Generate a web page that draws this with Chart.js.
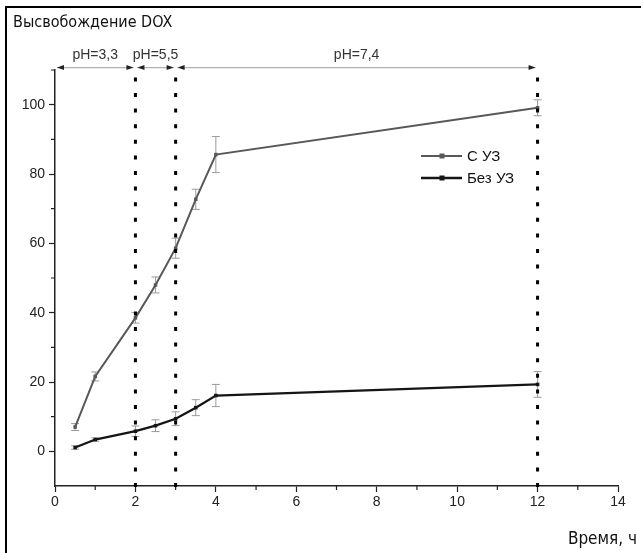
<!DOCTYPE html>
<html><head><meta charset="utf-8">
<script src="https://cdn.jsdelivr.net/npm/chart.js@4/dist/chart.umd.min.js"></script>
<style>
html,body{margin:0;padding:0;background:#fff;overflow:hidden}
#wrap{position:relative;width:641px;height:553px;overflow:hidden}
#frame{position:absolute;left:5px;top:6px;width:700px;height:600px;border-left:2px solid #000;border-top:2px solid #000;pointer-events:none}
canvas{display:block}
</style></head><body>
<div id="wrap"><canvas id="c" width="641" height="553"></canvas><div id="frame"></div></div>
<script>
const TIME = [0.5, 1, 2, 2.5, 3, 3.5, 4, 12];
const WITH_US = [7, 21.6, 38.5, 48, 58.6, 72.7, 85.6, 99.1];
const WITH_US_ERR = [1, 1.3, 1.5, 2.3, 2.9, 2.9, 5.2, 2.3];
const WITHOUT_US = [1.1, 3.4, 5.8, 7.4, 9.4, 12.6, 16.1, 19.3];
const WITHOUT_US_ERR = [0.5, 0.5, 1.5, 1.7, 2, 2.3, 3.2, 3.7];
const SERIES_NAMES = ['С УЗ', 'Без УЗ'];
const X_TICKS = [0, 2, 4, 6, 8, 10, 12, 14];
const X_MINOR = [1, 3, 5, 7, 9, 11, 13];
const Y_TICKS = [0, 20, 40, 60, 80, 100];
const Y_MINOR = [10, 30, 50, 70, 90, 110];
const PH_BOUNDS = [0, 2, 3, 12];
const PH_LABELS = ['pH=3,3', 'pH=5,5', 'pH=7,4'];
const Y_TITLE = 'Высвобождение DOX';
const X_TITLE = 'Время, ч';

const ERRS = [WITH_US_ERR, WITHOUT_US_ERR];
const COLORS = ['#585858', '#151515'];
const WIDTHS = [2, 2.3];

const annot = {
  id: 'annot',
  beforeDatasetsDraw(chart) {
    const {ctx, scales: {x, y}} = chart;
    ctx.save();
    ctx.strokeStyle = '#9a9a9a';
    ctx.lineWidth = 1;
    chart.data.datasets.forEach((ds, di) => {
      ds.data.forEach((p, i) => {
        const e = ERRS[di][i];
        const px = x.getPixelForValue(p.x);
        const y1 = y.getPixelForValue(p.y + e), y2 = y.getPixelForValue(p.y - e);
        ctx.beginPath();
        ctx.moveTo(px, y1); ctx.lineTo(px, y2);
        ctx.moveTo(px - 4, y1); ctx.lineTo(px + 4, y1);
        ctx.moveTo(px - 4, y2); ctx.lineTo(px + 4, y2);
        ctx.stroke();
      });
    });
    ctx.restore();
  },
  afterDatasetsDraw(chart) {
    const {ctx, chartArea: ca, scales: {x, y}} = chart;
    ctx.save();
    // minor ticks
    ctx.strokeStyle = '#222'; ctx.lineWidth = 1.2;
    ctx.beginPath();
    X_MINOR.forEach(v => { const px = x.getPixelForValue(v); ctx.moveTo(px, ca.bottom); ctx.lineTo(px, ca.bottom + 4); });
    Y_MINOR.forEach(v => { const py = y.getPixelForValue(v); ctx.moveTo(ca.left, py); ctx.lineTo(ca.left - 4, py); });
    ctx.stroke();
    // dotted verticals
    const topY = y.getPixelForValue(109);
    ctx.strokeStyle = '#000'; ctx.lineWidth = 3;
    ctx.setLineDash([4, 11.6]);
    PH_BOUNDS.slice(1).forEach(v => {
      const px = x.getPixelForValue(v);
      ctx.beginPath(); ctx.moveTo(px, ca.bottom + 1); ctx.lineTo(px, topY); ctx.stroke();
    });
    ctx.setLineDash([]);
    // pH arrows
    const ay = y.getPixelForValue(110.7);
    for (let i = 0; i < PH_LABELS.length; i++) {
      const a = x.getPixelForValue(PH_BOUNDS[i]) + 2, b = x.getPixelForValue(PH_BOUNDS[i + 1]) - 2;
      ctx.strokeStyle = '#b0b0b0'; ctx.lineWidth = 1.2;
      ctx.beginPath(); ctx.moveTo(a, ay); ctx.lineTo(b, ay); ctx.stroke();
      ctx.fillStyle = '#222';
      ctx.beginPath(); ctx.moveTo(a, ay); ctx.lineTo(a + 7, ay - 2.5); ctx.lineTo(a + 7, ay + 2.5); ctx.closePath(); ctx.fill();
      ctx.beginPath(); ctx.moveTo(b, ay); ctx.lineTo(b - 7, ay - 2.5); ctx.lineTo(b - 7, ay + 2.5); ctx.closePath(); ctx.fill();
      ctx.fillStyle = '#333';
      ctx.font = '14px "Liberation Sans", Arial, sans-serif';
      ctx.textAlign = 'center'; ctx.textBaseline = 'middle';
      ctx.fillText(PH_LABELS[i], (a + b) / 2, ay - 12);
    }
    // legend
    ctx.font = '15px "Liberation Sans", Arial, sans-serif';
    ctx.textAlign = 'left'; ctx.textBaseline = 'middle';
    SERIES_NAMES.forEach((n, i) => {
      const ly = 156 + i * 22;
      ctx.strokeStyle = COLORS[i]; ctx.lineWidth = WIDTHS[i];
      ctx.beginPath(); ctx.moveTo(421, ly); ctx.lineTo(462, ly); ctx.stroke();
      ctx.fillStyle = COLORS[i];
      ctx.fillRect(439.5, ly - 2.5, 5, 5);
      ctx.fillStyle = '#111';
      ctx.fillText(n, 467, ly + 1);
    });
    // titles
    ctx.fillStyle = '#111';
    ctx.font = '16px "DejaVu Sans Condensed", "DejaVu Sans", sans-serif';
    ctx.textAlign = 'left'; ctx.textBaseline = 'middle';
    ctx.fillText(Y_TITLE, 13, 23);
    ctx.font = '17px "DejaVu Sans Condensed", "DejaVu Sans", sans-serif';
    ctx.textAlign = 'right';
    ctx.fillText(X_TITLE, 637, 540);
    ctx.restore();
  }
};

new Chart(document.getElementById('c'), {
  type: 'line',
  data: {
    datasets: [WITH_US, WITHOUT_US].map((vals, di) => ({
      label: SERIES_NAMES[di],
      data: TIME.map((t, i) => ({x: t, y: vals[i]})),
      borderColor: COLORS[di],
      borderWidth: WIDTHS[di],
      backgroundColor: COLORS[di],
      pointStyle: 'rect',
      pointRadius: 2.5,
      pointHoverRadius: 2.5,
      pointBackgroundColor: COLORS[di],
      pointBorderWidth: 0,
      tension: 0,
      fill: false
    }))
  },
  options: {
    responsive: false,
    animation: false,
    devicePixelRatio: 1,
    layout: {padding: {left: 0, right: 23, top: 70, bottom: 37}},
    plugins: {legend: {display: false}, tooltip: {enabled: false}, title: {display: false}},
    scales: {
      x: {
        type: 'linear', min: 0, max: 14,
        afterBuildTicks: s => { s.ticks = X_TICKS.map(v => ({value: v})); },
        afterFit: s => { s.height = 30; },
        grid: {drawOnChartArea: false, tickLength: 6, tickColor: '#222', tickWidth: 1.2},
        border: {color: '#222', width: 1.5},
        ticks: {font: {family: '"Liberation Sans", Arial, sans-serif', size: 14}, color: '#222', padding: 2, maxRotation: 0, autoSkip: false}
      },
      y: {
        type: 'linear', min: -10, max: 110,
        afterBuildTicks: s => { s.ticks = Y_TICKS.map(v => ({value: v})); },
        afterFit: s => { s.width = 55; },
        grid: {drawOnChartArea: false, tickLength: 6, tickColor: '#222', tickWidth: 1.2},
        border: {color: '#222', width: 1.5},
        ticks: {font: {family: '"Liberation Sans", Arial, sans-serif', size: 14}, color: '#222', padding: 4, autoSkip: false}
      }
    }
  },
  plugins: [annot]
});
</script>
</body></html>
